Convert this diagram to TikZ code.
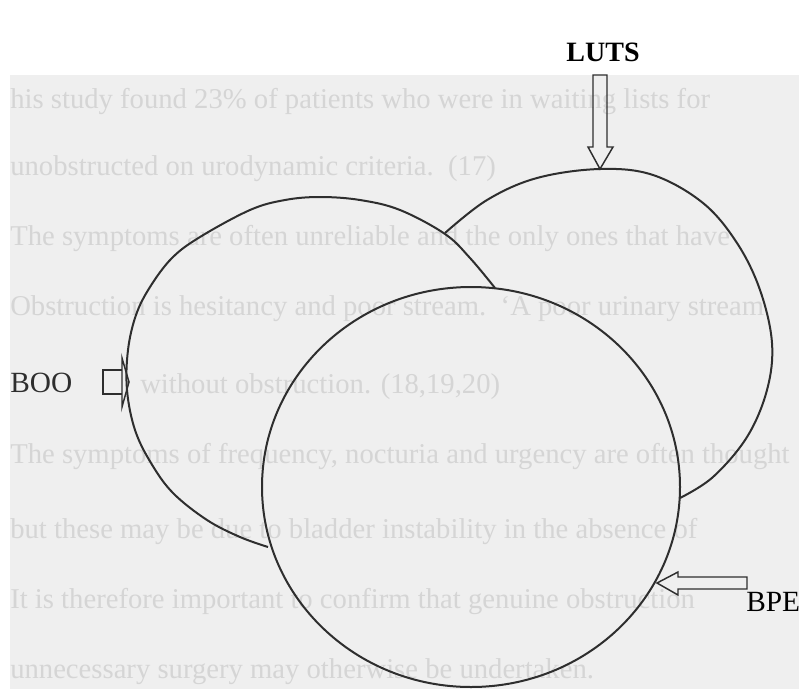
\documentclass[tikz,border=0pt]{standalone}
\usepackage{fontspec}
\setmainfont{Liberation Serif}
\definecolor{pagegray}{HTML}{EFEFEF}
\definecolor{ghost}{HTML}{D5D5D5}
\definecolor{ink}{HTML}{2E2E2E}
\tikzset{
  ring/.style={draw=ink, line width=1.5pt, line join=round},
  blockarrow/.style={draw=ink, line width=1.1pt, line join=miter},
  ghosttext/.style={text=ghost, anchor=base west, inner sep=0pt, font=\fontsize{21.5}{21.5}\selectfont},
  lbl/.style={text=black, inner sep=0pt, font=\fontsize{22}{22}\selectfont},
}
\begin{document}
\begin{tikzpicture}[x=0.75pt,y=-0.75pt]
\useasboundingbox (0,0) rectangle (799,689);
\fill[white] (0,0) rectangle (799,689);
\fill[pagegray] (10,75) rectangle (799,689);

% faint page text behind the figure
\node[ghosttext] (t1) at (10,108) {his study found 23\% of patients who were in waiting lists for};
\node[ghosttext] (t2) at (10,175) {unobstructed on urodynamic criteria.\ \ (17)};
\node[ghosttext] (t3) at (10,245) {The symptoms are often unreliable and the only ones that have};
\node[ghosttext] (t4) at (10,315) {Obstruction is hesitancy and poor stream.\ \ `A poor urinary stream};
\node[ghosttext] (t5) at (140,393) {without obstruction. (18,19,20)};
\node[ghosttext] (t6) at (10,463) {The symptoms of frequency, nocturia and urgency are often thought};
\node[ghosttext] (t7) at (10,538) {but these may be due to bladder instability in the absence of};
\node[ghosttext] (t8) at (10,608) {It is therefore important to confirm that genuine obstruction};
\node[ghosttext] (t9) at (10,678) {unnecessary surgery may otherwise be undertaken.};

% circle B (back)
\draw[ring] plot[smooth, tension=0.6] coordinates {
  (445,233) (487,200) (537,178) (600,169) (653,175) (703,203)
  (737,243) (760,290) (772,343) (767,390) (747,437) (713,477) (680,498)};
% circle A (middle)
\draw[ring] plot[smooth, tension=0.6] coordinates {
  (268,547) (240,537) (207,520) (173,493) (151,463) (135,430) (127,390)
  (128,350) (136,315) (150,287) (172,258) (200,237) (250,210) (285,200)
  (320,197) (360,200) (400,210) (445,234) (470,258) (495,288)};
% circle C (front)
\draw[ring] (471,487) ellipse [x radius=156.75pt, y radius=150pt];

% labels
\node[lbl, font=\bfseries\fontsize{21}{21}\selectfont, anchor=base] (luts) at (603,61) {LUTS};
\node[lbl, text=ink, anchor=base west] (boo) at (10,392) {BOO};
\node[lbl, anchor=base west] (bpe) at (746,611) {BPE};

% hollow arrows
\coordinate (lutstip) at (600,169);
\coordinate (bootip) at (129,382);
\coordinate (bpetip) at (657,583);
\draw[blockarrow] (lutstip) -- (588,147) -- (593,147) -- (593,75) -- (607,75) -- (607,147) -- (613,147) -- cycle;
\draw[blockarrow] (122,370) -- (103,370) -- (103,394) -- (122,394);
\draw[blockarrow] (122,358) -- (bootip) -- (122,407) -- cycle;
\draw[blockarrow] (bpetip) -- (678,572) -- (678,577) -- (747,577) -- (747,589) -- (678,589) -- (678,595) -- cycle;
\end{tikzpicture}
\end{document}
